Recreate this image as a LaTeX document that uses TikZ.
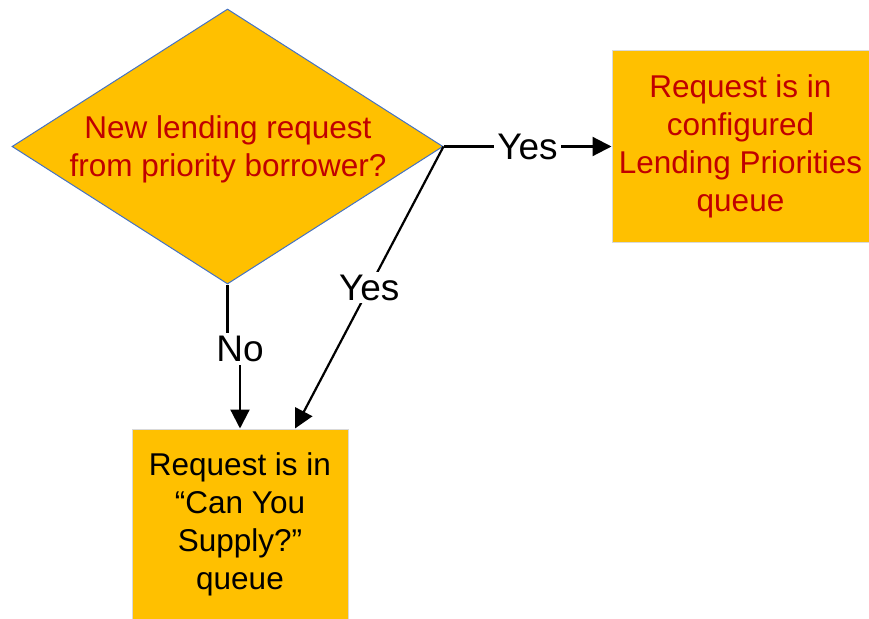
\documentclass[tikz,border=0pt]{standalone}
\usepackage{fontspec}
\setmainfont{Liberation Sans}
\usetikzlibrary{shapes.geometric,arrows.meta}
\definecolor{boxfill}{RGB}{255, 192, 0}
\definecolor{boxtext}{RGB}{192, 0, 0}
\definecolor{diaborder}{RGB}{68, 114, 196}
\definecolor{boxborder}{RGB}{217, 217, 217}

\tikzset{
  decision/.style={diamond, draw=diaborder, fill=boxfill, line width=1pt,
    minimum width=431pt, minimum height=275pt, inner sep=0pt, aspect=1.567},
  queuebox/.style={rectangle, draw=boxborder, fill=boxfill, line width=1pt,
    inner sep=0pt, align=center, font=\fontsize{31.5}{38}\selectfont},
  conn/.style={line width=2.2pt, -{Triangle[length=19pt,width=19pt]}},
  answer/.style={fill=white, inner sep=3pt, font=\fontsize{37}{40}\selectfont}
}

\begin{document}
\begin{tikzpicture}[x=1pt,y=-1pt]
  \useasboundingbox (0,0) rectangle (869,618);

  % decision
  \node[decision] (dia) at (227.5,146.5) {};
  \node[boxtext, align=center, font=\fontsize{31.5}{38}\selectfont] (question) at (228,149.5)
    {New lending request\\from priority borrower?};

  % queues
  \node[queuebox, text=boxtext, minimum width=257pt, minimum height=191pt] (prio) at (740.5,146.5)
    {Request is in\\configured\\Lending Priorities\\queue};
  \node[queuebox, text=black, minimum width=216pt, minimum height=190pt] (supply) at (240,524)
    {Request is in\\``Can You\\Supply?''\\queue};

  % connectors
  \draw[conn] (dia.east) -- node[answer] {Yes} (prio.west);
  \draw[conn] (dia.east) -- node[answer] {Yes} ([xshift=55pt]supply.north);
  \coordinate (nobend) at (227.5,349);
  \draw[conn] (dia.south) -- (nobend) -| (supply.north);
  \node[answer] (no) at (240,349) {No};
\end{tikzpicture}
\end{document}
